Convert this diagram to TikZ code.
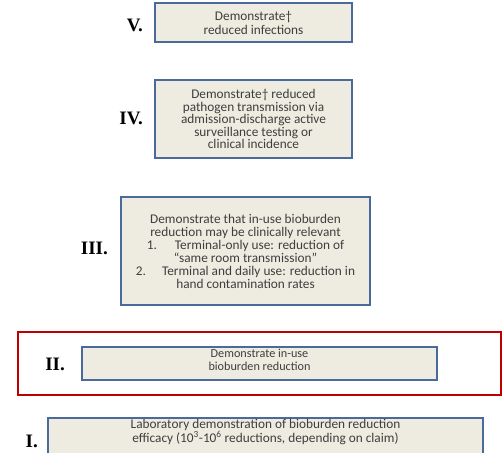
\documentclass[tikz,border=0pt]{standalone}
\usepackage{fontspec}
\setmainfont{Carlito}
\newfontfamily\labelfont{Liberation Serif}
\usetikzlibrary{positioning}

\definecolor{boxfill}{HTML}{EEECE1}
\definecolor{boxedge}{HTML}{4A6A9C}
\definecolor{boxtext}{HTML}{3E3E3E}
\definecolor{focusred}{HTML}{C00000}

\tikzset{
  stage/.style={draw=boxedge, line width=2pt, fill=boxfill, inner sep=0pt},
  stagetext/.style={text=boxtext, align=center, inner sep=0pt,
    font=\fontsize{13.3}{13}\selectfont},
  level/.style={anchor=base east, inner sep=0pt,
    font=\labelfont\bfseries\fontsize{19}{19}\selectfont},
  focus/.style={draw=focusred, line width=2.5pt, inner sep=0pt}
}

\begin{document}
\begin{tikzpicture}[x=1pt,y=-1pt]
\useasboundingbox (0,0) rectangle (502,452);

% level V
\node[stage, stagetext, minimum width=197, minimum height=39,
      font=\fontsize{13.3}{14}\selectfont] (b5) at (253.5,22.5)
  {Demonstrate†\\reduced infections};
\node[level] (l5) at (143,31) {V.};

% level IV
\node[stage, stagetext, minimum width=197, minimum height=78,
      font=\fontsize{13.3}{12.5}\selectfont] (b4) at (253.5,119)
  {Demonstrate† reduced\\pathogen transmission via\\admission-discharge active\\surveillance testing or\\clinical incidence};
\node[level] (l4) at (143,124) {IV.};

% level III
\node[stage, stagetext, minimum width=249, minimum height=108] (b3) at (245.5,251)
  {Demonstrate that in-use bioburden\\reduction may be clinically relevant\\
   1.\hspace{18pt}Terminal-only use: reduction of\\“same room transmission”\\
   2.\hspace{16pt}Terminal and daily use: reduction in\\hand contamination rates};
\node[level] (l3) at (108,254) {III.};

% level II, framed in red
\node[focus, minimum width=483, minimum height=63] (frame) at (259.5,363.5) {};
\node[stage, minimum width=355, minimum height=33] (b2) at (259.5,363.5) {};
\node[stagetext, font=\fontsize{12.2}{13}\selectfont] (t2) at (259.5,360)
  {Demonstrate in-use\\bioburden reduction};
\node[level] (l2) at (65,370) {II.};

% level I, running off the bottom edge
\node[stage, minimum width=435, minimum height=52] (b1) at (265.5,444) {};
\node[stagetext] (t1) at (265.5,432)
  {Laboratory demonstration of bioburden reduction\\efficacy (10\textsuperscript{3}-10\textsuperscript{6} reductions, depending on claim)};
\node[level] (l1) at (38,447) {I.};
\end{tikzpicture}
\end{document}
